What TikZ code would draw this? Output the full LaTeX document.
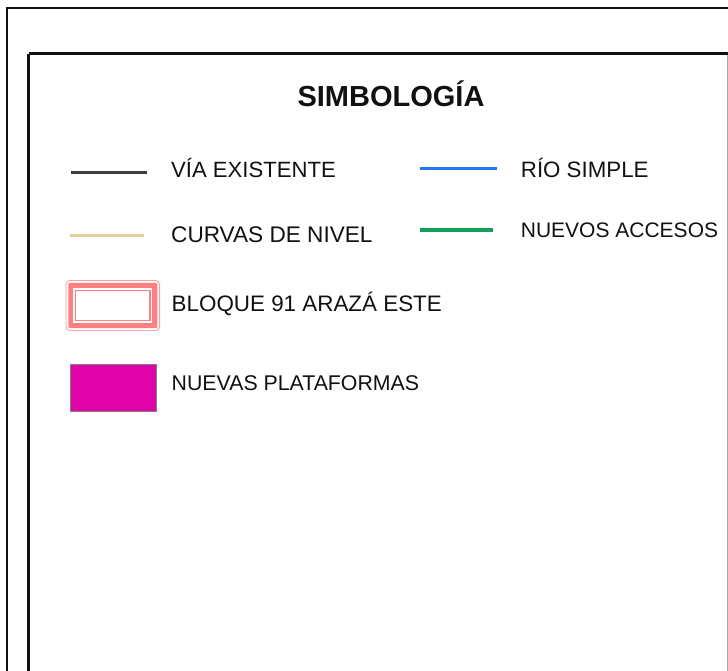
\documentclass[tikz,border=0pt]{standalone}
\usepackage{fontspec}
\setmainfont{Liberation Sans}
\definecolor{frameblk}{HTML}{111111}
\definecolor{viagray}{HTML}{3C3C3C}
\definecolor{curvtan}{HTML}{E3D09C}
\definecolor{rioblue}{HTML}{1F77F5}
\definecolor{accgreen}{HTML}{12A05C}
\definecolor{salmon}{HTML}{FF8080}
\definecolor{platmag}{HTML}{E004A8}
\definecolor{txt}{HTML}{111111}
\tikzset{
  lbl/.style={anchor=base west, inner sep=0pt, text=txt},
  ttl/.style={anchor=base, inner sep=0pt, text=txt, font=\fontsize{29}{34}\selectfont\bfseries},
  swatch/.style={line width=2.8pt},
}
\newcommand{\fsz}[1]{\fontsize{#1}{#1}\selectfont}
\begin{document}
\begin{tikzpicture}[x=1pt,y=-1pt]
\useasboundingbox (0,0) rectangle (728,670);
\clip (0,0) rectangle (728,670);
\fill[white] (0,0) rectangle (728,670);
% frames
\draw[frameblk, line width=2.0pt] (6.5,8.3) rectangle (760,700);
\draw[frameblk, line width=2.4pt] (28.7,53.5) -- (760,53.5);
\draw[frameblk, line width=2.7pt] (28.7,53.5) -- (28.7,700);
\draw[gray!70, line width=1pt] (727.3,54.5) -- (727.3,700);
% title
\node[ttl] (title) at (391,106) {SIMBOLOGÍA};
% line swatches
\draw[viagray, swatch] (70.5,172.7) -- (146.5,172.7);
\node[lbl, font=\fsz{22.1}] (via) at (171,177.3) {VÍA EXISTENTE};
\draw[curvtan, swatch, line width=2.6pt] (70,235.7) -- (144,235.7);
\node[lbl, font=\fsz{22.6}] (curv) at (171,242.7) {CURVAS DE NIVEL};
\draw[rioblue, swatch, line width=2.4pt] (420,168.3) -- (496.5,168.3);
\node[lbl, font=\fsz{22.3}] (rio) at (520.7,177.7) {RÍO SIMPLE};
\draw[accgreen, swatch, line width=3.4pt] (420,230) -- (492.7,230);
\node[lbl, font=\fsz{21}] (acc) at (520.7,237.3) {NUEVOS ACCESOS};
% bloque symbol
\draw[salmon!75, line width=0.9pt, rounded corners=4pt] (66,280.5) rectangle (159.6,330.5);
\fill[salmon, rounded corners=2pt] (68.3,282.8) rectangle (157.3,328.2);
\fill[white] (73.2,287.8) rectangle (152.4,323.2);
\draw[salmon, line width=1.3pt] (75.6,290.3) rectangle (150,320.8);
\node[lbl, font=\fsz{22.4}] (bloque) at (171.5,311.7) {BLOQUE 91 ARAZÁ ESTE};
% plataformas
\draw[gray, fill=platmag, line width=0.9pt] (70.7,364.5) rectangle (156.7,411.5);
\node[lbl, font=\fsz{21.3}] (plat) at (171.5,390) {NUEVAS PLATAFORMAS};
\end{tikzpicture}
\end{document}
